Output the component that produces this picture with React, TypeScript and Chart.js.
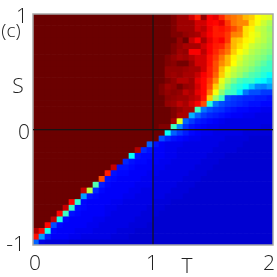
import React, { useEffect, useRef } from "react";
import { Chart, registerables } from "chart.js";

Chart.register(...registerables);

const D = 102; // saturated dark red
const tTicks = [0, 1, 2];
const sTicks = [-1, 0, 1];
const verticalCross = [{ x: 1, y: -1 }, { x: 1, y: 1 }];
const horizontalCrossS = 0;
const tStep = 0.05;
const sStep = 0.05;
const xTickNudge = [2, -1, -4];
const yTickNudge = [[-8, 0], [-3, 3.5], [-5, 3]];

// index into the colour map, top row (S = 1) first, T = 0 on the left
const row00 = [D,D,D,D,D,D,D,D,D,D, D,D,D,D,D,D,D,D,D,D, D,D,D,100,97,97,92,85,98,88, 90,84,78,76,74,72,70,65,63,62];
const row01 = [D,D,D,D,D,D,D,D,D,D, D,D,D,D,D,D,D,D,D,D, D,D,D,100,97,97,97,92,92,88, 87,90,82,76,74,74,68,64,60,57];
const row02 = [D,D,D,D,D,D,D,D,D,D, D,D,D,D,D,D,D,D,D,D, D,D,D,100,97,97,97,92,94,89, 85,86,84,80,76,68,66,60,58,55];
const row03 = [D,D,D,D,D,D,D,D,D,D, D,D,D,D,D,D,D,D,D,D, D,D,D,100,100,98,97,96,92,88, 85,85,82,75,74,68,64,62,58,56];
const row04 = [D,D,D,D,D,D,D,D,D,D, D,D,D,D,D,D,D,D,D,D, D,D,D,102,98,102,93,88,96,90, 86,88,82,72,70,66,64,60,58,55];
const row05 = [D,D,D,D,D,D,D,D,D,D, D,D,D,D,D,D,D,D,D,D, D,D,D,100,98,96,96,96,92,88, 85,84,78,72,68,64,60,58,56,54];
const row06 = [D,D,D,D,D,D,D,D,D,D, D,D,D,D,D,D,D,D,D,D, D,D,D,100,97,98,88,88,94,88, 84,80,76,70,65,62,58,56,54,52];
const row07 = [D,D,D,D,D,D,D,D,D,D, D,D,D,D,D,D,D,D,D,D, D,D,100,98,96,97,95,92,92,86, 82,76,72,66,62,58,56,54,52,49];
const row08 = [D,D,D,D,D,D,D,D,D,D, D,D,D,D,D,D,D,D,D,D, D,D,100,99,101,101,97,92,92,86, 80,74,72,65,60,57,55,52,49,46];
const row09 = [D,D,D,D,D,D,D,D,D,D, D,D,D,D,D,D,D,D,D,D, D,D,98,98,98,97,96,96,92,85, 80,72,64,60,57,55,52,49,46,43];
const row10 = [D,D,D,D,D,D,D,D,D,D, D,D,D,D,D,D,D,D,D,D, D,D,98,97,98,96,96,93,88,85, 78,70,62,58,55,51,48,44,41,38];
const row11 = [D,D,D,D,D,D,D,D,D,D, D,D,D,D,D,D,D,D,D,D, D,D,100,98,95,95,97,90,87,82, 74,63,57,52,47,45,43,39,37,33];
const row12 = [D,D,D,D,D,D,D,D,D,D, D,D,D,D,D,D,D,D,D,D, D,100,97,98,101,98,97,92,87,80, 70,60,52,46,41,38,32,26,25,28];
const row13 = [D,D,D,D,D,D,D,D,D,D, D,D,D,D,D,D,D,D,D,D, D,100,98,99,98,94,96,90,87,76, 64,54,47,43,36,24,20,20,18,18];
const row14 = [D,D,D,D,D,D,D,D,D,D, D,D,D,D,D,D,D,D,D,D, D,D,99,98,97,97,95,93,86,70, 55,46,20,18,17,16,16,15,15,14];
const row15 = [D,D,D,D,D,D,D,D,D,D, D,D,D,D,D,D,D,D,D,D, D,D,98,97,94,96,92,88,80,41, 24,20,18,17,16,15,14,14,13,13];
const row16 = [D,D,D,D,D,D,D,D,D,D, D,D,D,D,D,D,D,D,D,D, D,D,D,100,98,96,96,44,24,20, 18,17,15,14,13,13,12,12,11,11];
const row17 = [D,D,D,D,D,D,D,D,D,D, D,D,D,D,D,D,D,D,D,D, D,D,D,100,96,96,30,22,18,16, 15,14,13,12,12,11,11,10,10,10];
const row18 = [D,D,D,D,D,D,D,D,D,D, D,D,D,D,D,D,D,D,D,D, D,D,D,96,62,22,18,15,14,13, 12,11,10,10,10,10,10,10,10,10];
const row19 = [D,D,D,D,D,D,D,D,D,D, D,D,D,D,D,D,D,D,D,D, D,100,100,46,26,17,14,13,12,11, 11,10,10,10,10,10,10,10,9,9];
const row20 = [D,D,D,D,D,D,D,D,D,D, D,D,D,D,D,D,D,D,D,D, D,D,38,22,18,15,13,12,11,11, 10,10,10,10,10,9,9,9,9,9];
const row21 = [D,D,D,D,D,D,D,D,D,D, D,D,D,D,D,D,D,D,D,D, D,20,16,14,13,12,11,11,10,10, 10,10,9,9,9,9,8,8,8,8];
const row22 = [D,D,D,D,D,D,D,D,D,D, D,D,D,D,D,D,D,D,D,22, 14,12,11,11,11,10,10,10,10,10, 10,9,9,9,9,8,8,8,8,8];
const row23 = [D,D,D,D,D,D,D,D,D,D, D,D,D,D,D,D,D,95,16,14, 12,12,11,11,10,10,10,10,10,10, 9,9,9,9,8,8,8,8,8,8];
const row24 = [D,D,D,D,D,D,D,D,D,D, D,D,D,D,D,D,38,14,13,13, 12,12,11,11,10,10,10,10,10,9, 9,9,8,8,8,8,8,8,8,8];
const row25 = [D,D,D,D,D,D,D,D,D,D, D,D,D,D,D,16,14,13,13,12, 12,11,11,10,10,10,10,10,9,9, 9,8,8,8,8,8,8,8,8,8];
const row26 = [D,D,D,D,D,D,D,D,D,D, D,D,D,93,14,14,13,12,12,12, 11,11,10,10,10,10,10,9,9,9, 8,8,8,8,8,8,8,8,8,8];
const row27 = [D,D,D,D,D,D,D,D,D,D, D,D,85,14,13,13,12,12,12,11, 11,10,10,10,10,10,9,9,9,8, 8,8,8,8,8,8,8,8,8,8];
const row28 = [D,D,D,D,D,D,D,D,D,D, D,80,14,13,12,12,12,12,11,11, 10,10,10,10,10,9,9,9,8,8, 8,8,8,8,8,8,8,8,8,8];
const row29 = [D,D,D,D,D,D,D,D,D,D, 48,15,13,12,12,12,12,11,11,11, 10,10,10,10,9,9,9,8,8,8, 8,8,8,8,8,8,8,8,8,8];
const row30 = [D,D,D,D,D,D,D,D,93,58, 16,13,12,12,12,12,11,11,10,10, 10,10,10,9,9,9,8,8,8,8, 8,8,8,8,8,8,8,8,8,8];
const row31 = [D,D,D,D,D,D,D,D,28,14, 13,12,12,12,12,11,11,10,10,10, 10,10,9,9,9,8,8,8,8,8, 8,8,8,8,8,8,8,8,8,8];
const row32 = [D,D,D,D,D,D,87,42,13,12, 12,12,12,11,11,10,10,10,10,10, 9,9,9,8,8,8,8,8,8,8, 8,8,8,8,8,8,8,8,8,8];
const row33 = [D,D,D,D,D,93,43,14,13,12, 12,12,11,11,10,10,10,10,10,9, 9,9,8,8,8,8,8,8,8,8, 8,8,8,8,8,8,8,8,8,8];
const row34 = [D,D,D,D,87,46,14,13,12,12, 12,12,11,10,10,10,10,10,9,9, 9,8,8,8,8,8,8,8,8,8, 8,8,8,8,8,8,8,8,8,8];
const row35 = [D,D,D,93,40,13,12,12,12,12, 11,11,10,10,10,10,10,9,9,9, 8,8,8,8,8,8,8,8,8,8, 8,8,8,8,8,8,8,8,8,8];
const row36 = [D,D,87,20,13,12,12,12,12,11, 11,10,10,10,10,10,9,9,9,8, 8,8,8,8,8,8,8,8,8,8, 8,8,8,8,8,8,8,8,8,8];
const row37 = [95,87,40,13,12,12,12,11,11,11, 10,10,10,10,9,9,9,8,8,8, 8,8,8,8,8,8,8,8,8,8, 8,8,8,8,8,8,8,8,8,8];
const row38 = [86,28,15,12,12,12,11,11,10,10, 10,10,10,9,9,9,8,8,8,8, 8,8,8,8,8,8,8,8,8,8, 8,8,8,8,8,8,8,8,8,8];
const row39 = [22,10,9,9,9,9,8,8,8,8, 8,8,8,8,8,8,8,8,8,8, 8,8,8,8,8,8,8,8,8,8, 8,8,8,8,8,8,8,8,8,8];

const rows = [
  row00, row01, row02, row03, row04, row05, row06, row07, row08, row09,
  row10, row11, row12, row13, row14, row15, row16, row17, row18, row19,
  row20, row21, row22, row23, row24, row25, row26, row27, row28, row29,
  row30, row31, row32, row33, row34, row35, row36, row37, row38, row39,
];

const clamp = (v: number) => Math.max(0, Math.min(1, v));
function jet(index: number) {
  const v = (index >= 45 && index <= 72 ? index - 2.5 : index) / 100;
  const r = clamp(1.5 - Math.abs(4 * v - 3));
  const g = clamp(1.5 - Math.abs(4 * v - 2));
  const b = clamp(1.5 - Math.abs(4 * v - 1));
  return `rgb(${Math.round(r * 255)},${Math.round(g * 255)},${Math.round(b * 255)})`;
}

const FONT = "'Open Sans', sans-serif";

const labelsPlugin = {
  id: "labels",
  beforeDraw(chart: any) {
    if (!chart.$nudged) {
      const xItems = chart.scales.x.getLabelItems(chart.chartArea);
      xItems.forEach((it: any, i: number) => {
        it.options.translation[0] += xTickNudge[i];
      });
      const yItems = chart.scales.y.getLabelItems(chart.chartArea);
      yItems.forEach((it: any, i: number) => {
        it.options.translation[0] += yTickNudge[i][0];
        it.options.translation[1] += yTickNudge[i][1];
      });
      chart.$nudged = true;
    }
  },
  afterDraw(chart: any) {
    const { ctx, chartArea: a } = chart;
    ctx.save();
    // frame
    ctx.strokeStyle = "#a6a6a6";
    ctx.lineWidth = 1.5;
    ctx.strokeRect(a.left, a.top, a.right - a.left, a.bottom - a.top);
    // cross line at S = 0
    const py = chart.scales.y.getPixelForValue(horizontalCrossS);
    ctx.fillStyle = "#141414";
    ctx.fillRect(a.left, Math.round(py) - 1, a.right - a.left, 1.3);
    // free-standing labels
    ctx.fillStyle = "#222";
    ctx.textAlign = "center";
    ctx.textBaseline = "middle";
    ctx.font = `300 21px ${FONT}`;
    ctx.fillText("S", 18, 87.5);
    ctx.fillText("T", 187, 267);
    ctx.font = `300 19px ${FONT}`;
    ctx.fillText("(c)", 11, 32);
    ctx.restore();
  },
};

export default function App() {
  const ref = useRef<HTMLCanvasElement>(null);
  useEffect(() => {
    const cells = rows.map((row, r) => ({
      type: "bar",
      order: 2,
      data: row.map((_, c) => ({
        x: (c + 0.5) * tStep,
        y: [1 - (r + 1) * sStep, 1 - r * sStep],
      })),
      backgroundColor: row.map((v) => jet(v)),
      borderWidth: 0,
      barPercentage: 1,
      categoryPercentage: 1,
      grouped: false,
    }));
    const crossStyle = {
      type: "line",
      order: 0,
      borderColor: "#141414",
      borderWidth: 1.2,
      pointRadius: 0,
      tension: 0,
      fill: false,
    };
    const datasets = [...cells, { ...crossStyle, data: verticalCross }];
    const chart = new Chart(ref.current!, {
      type: "bar",
      data: { datasets } as any,
      plugins: [labelsPlugin],
      options: {
        responsive: false,
        animation: false,
        layout: { padding: { left: 0, top: 14, right: 4, bottom: 0 }, autoPadding: false },
        plugins: { legend: { display: false }, tooltip: { enabled: false }, title: { display: false } },
        scales: {
          x: {
            type: "linear",
            min: 0,
            max: 2,
            offset: false,
            afterBuildTicks: (s: any) => {
              s.ticks = tTicks.map((value) => ({ value }));
            },
            afterFit: (s: any) => {
              s.height = 32;
              s.paddingLeft = 0;
              s.paddingRight = 0;
            },
            ticks: {
              padding: 6,
              maxRotation: 0,
              autoSkip: false,
              color: "#222",
              font: { family: FONT, size: 21, weight: 300 },
              callback: (v: any) => String(v),
            },
            grid: { display: false, drawTicks: false },
            border: { display: false },
          },
          y: {
            type: "linear",
            min: -1,
            max: 1,
            afterBuildTicks: (s: any) => {
              s.ticks = sTicks.map((value) => ({ value }));
            },
            afterFit: (s: any) => {
              s.width = 33;
              s.paddingTop = 0;
              s.paddingBottom = 0;
            },
            ticks: {
              padding: 0,
              autoSkip: false,
              color: "#222",
              font: { family: FONT, size: 21, weight: 300 },
              callback: (v: any) => String(v),
            },
            grid: { display: false, drawTicks: false },
            border: { display: false },
          },
        },
      },
    } as any);
    return () => chart.destroy();
  }, []);
  return (
    <canvas
      ref={ref}
      width={277}
      height={277}
      style={{ position: "fixed", left: 0, top: 0, width: 277, height: 277, background: "#fff", display: "block" }}
    />
  );
}
